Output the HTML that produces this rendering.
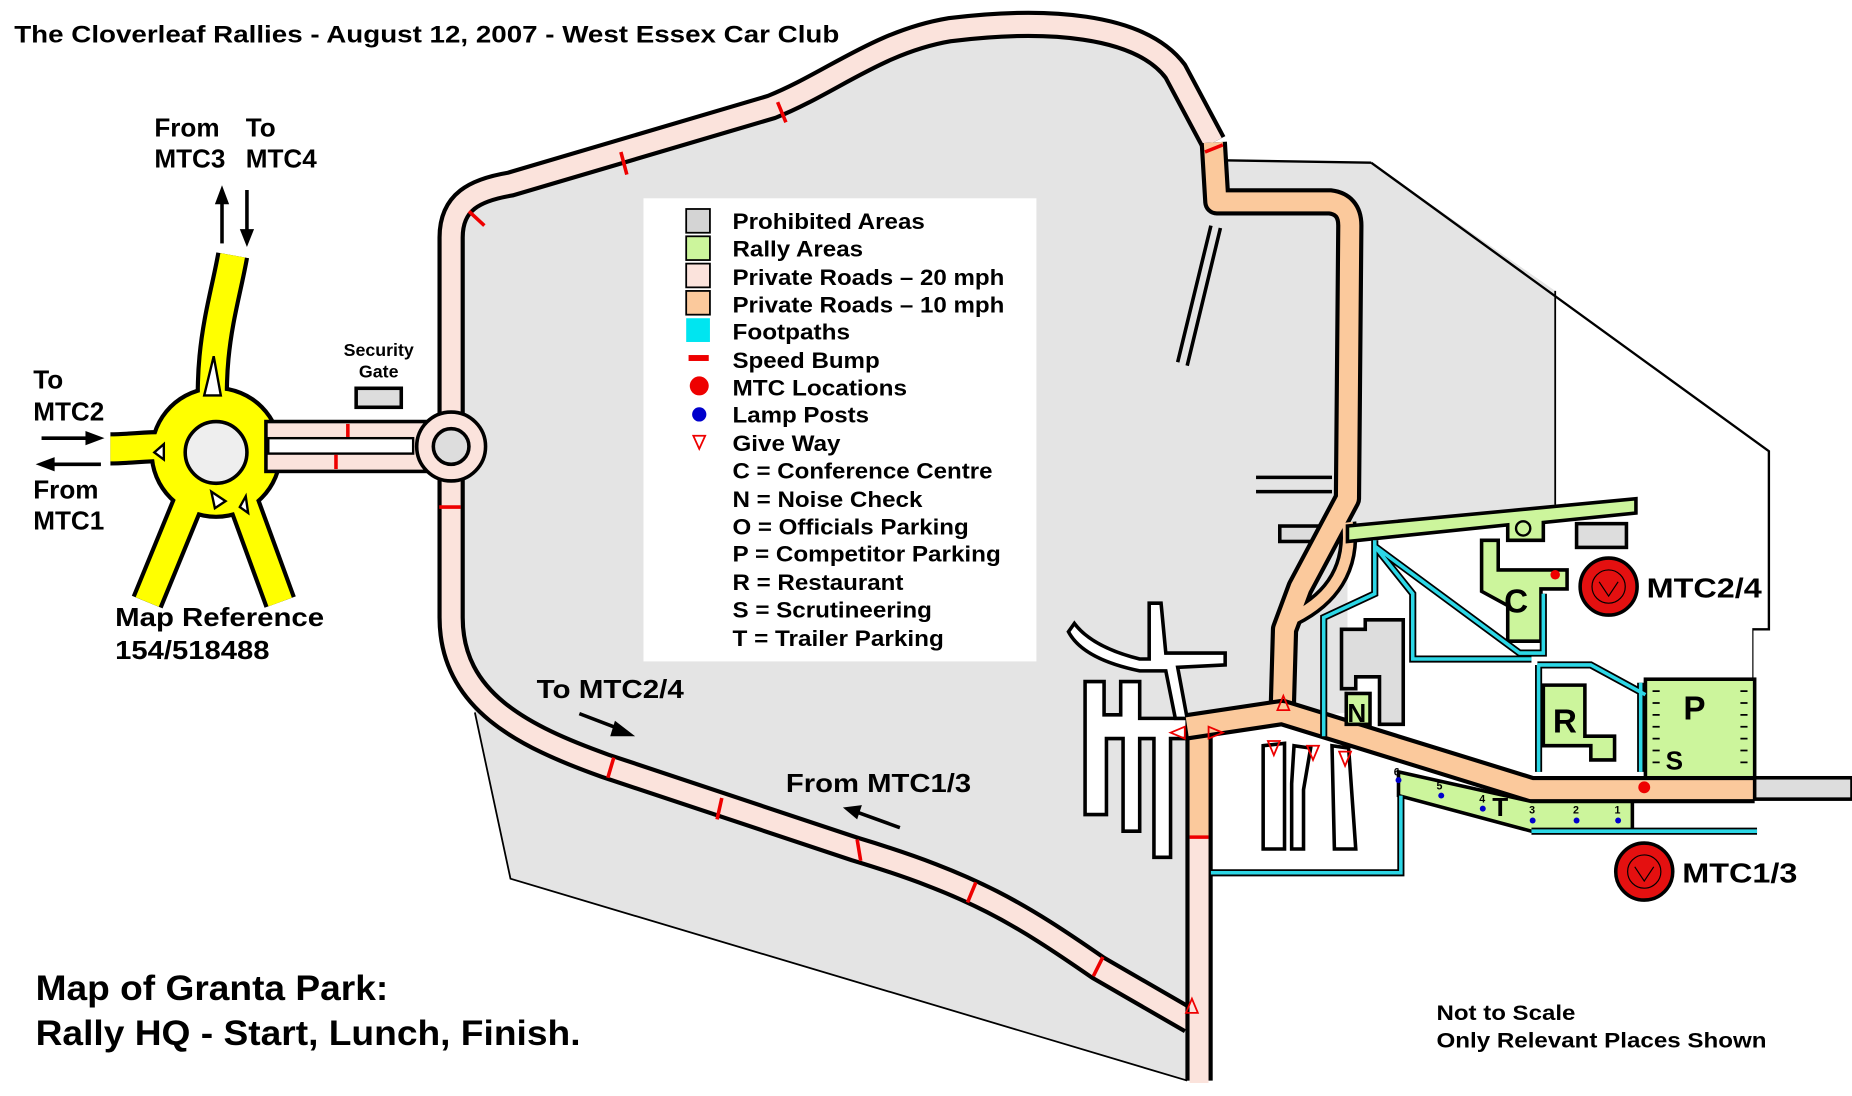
<!DOCTYPE html>
<html><head><meta charset="utf-8"><style>
html,body{margin:0;padding:0;background:#fff;}
svg{display:block;}
text{font-family:"Liberation Sans",Arial,sans-serif;font-weight:bold;fill:#000;}
</style></head><body>
<svg width="1852" height="1096" viewBox="0 0 1560 923" preserveAspectRatio="none" xmlns="http://www.w3.org/2000/svg">
<rect width="1560" height="923" fill="#fff"/>
<text x="12" y="36" font-size="20" textLength="695" lengthAdjust="spacingAndGlyphs">The Cloverleaf Rallies - August 12, 2007 - West Essex Car Club</text>

<path d="M380 520 L380 200 C380 170 400 160 430 155 L650 90 C700 70 740 35 800 25 C880 15 960 20 990 60 L1022 120 L1030 135 L1155 137 L1310 245 L1310 425 L1135 445 L1135 600 L1020 612 L1020 910 L1000 910 L430 740 L400 600 Z" fill="#e4e4e4"/>
<path d="M400 600 L430 740 L1000 910" fill="none" stroke="#000" stroke-width="1.5"/>
<path d="M1155 137 L1490 380 L1490 530 L1476 530 L1476 655" fill="none" stroke="#000" stroke-width="2"/>
<path d="M1030 135 L1155 137" fill="none" stroke="#000" stroke-width="2"/>
<path d="M1310 245 L1310 425" fill="none" stroke="#000" stroke-width="1.5"/>
<path d="M1138 455 L1476 430 L1476 655 L1180 655 L1180 735 L1020 735 L1020 620 L1138 612 Z" fill="#fff"/>

<path d="M992 305 L1020 190 M1000 308 L1028 192" stroke="#000" stroke-width="3" fill="none"/>
<path d="M1058 402 L1122 402 M1058 414 L1122 414" stroke="#000" stroke-width="3"/>
<rect x="1078" y="443" width="60" height="13" fill="#ddd" stroke="#000" stroke-width="3"/>
<g fill="#fff" stroke="#000" stroke-width="3">
<path d="M914 574 L930 574 L930 602 L944 602 L944 574 L960 574 L960 605 L1000 605 L1000 622 L986 622 L986 722 L972 722 L972 622 L960 622 L960 700 L946 700 L946 622 L932 622 L932 686 L914 686 Z"/>
<path d="M905 525 Q920 545 960 555 L968 555 L968 508 L978 508 L982 550 L1032 550 L1032 560 L992 562 L1000 605 L990 605 L982 565 L960 565 Q912 555 900 532 Z"/>
<path d="M1064 628 L1082 626 L1082 715 L1064 715 Z M1090 628 L1104 630 L1098 665 L1098 715 L1088 715 L1088 660 Z M1122 628 L1136 630 L1142 715 L1124 715 Z"/>
</g>

<g fill="none" stroke-linejoin="round">
<path d="M1003 860 L925 815 C860 770 820 745 720 715 L510 645 C440 620 380 590 380 520 L380 200 C380 170 400 160 430 155 L650 90 C700 70 740 35 800 25 C880 15 960 20 990 60 L1022 120" stroke="#000" stroke-width="23"/>
<path d="M1003 860 L925 815 C860 770 820 745 720 715 L510 645 C440 620 380 590 380 520 L380 200 C380 170 400 160 430 155 L650 90 C700 70 740 35 800 25 C880 15 960 20 990 60 L1022 120" stroke="#fbe3dc" stroke-width="16"/>
</g>
<path d="M1010 612 L1010 910" stroke="#000" stroke-width="23"/>
<path d="M1010 612 L1010 705" stroke="#fbc99c" stroke-width="16"/>
<path d="M1010 705 L1010 912" stroke="#fbe3dc" stroke-width="16"/>
<g fill="none" stroke-linejoin="round">
<path d="M1022 120 L1025 170 L1120 170 Q1137 172 1137 190 L1135 420 L1095 495 L1082 530 L1080 600" stroke="#000" stroke-width="23"/>
<path d="M1135 440 C1140 480 1120 505 1090 520" stroke="#000" stroke-width="15"/>
<path d="M1135 440 C1140 480 1120 505 1090 520" stroke="#fbc99c" stroke-width="9"/>
<path d="M1022 120 L1025 170 L1120 170 Q1137 172 1137 190 L1135 420 L1095 495 L1082 530 L1080 600" stroke="#fbc99c" stroke-width="16"/>
<path d="M1000 612 L1080 600 L1290 665 L1478 665" stroke="#000" stroke-width="23"/>
<path d="M1000 612 L1080 600 L1290 665 L1478 665" stroke="#fbc99c" stroke-width="16"/>
</g>
<rect x="1478" y="655" width="82" height="18" fill="#ddd" stroke="#000" stroke-width="3"/>

<g stroke="#e00" stroke-width="3">
<line x1="655" y1="86" x2="662" y2="103"/><line x1="523" y1="128" x2="528" y2="147"/>
<line x1="395" y1="178" x2="408" y2="190"/><line x1="370" y1="427" x2="388" y2="427"/>
<line x1="1015" y1="128" x2="1030" y2="122"/>
<line x1="517" y1="638" x2="512" y2="655"/><line x1="608" y1="672" x2="604" y2="690"/>
<line x1="722" y1="707" x2="725" y2="725"/><line x1="822" y1="743" x2="815" y2="760"/>
<line x1="929" y1="806" x2="921" y2="822"/><line x1="1002" y1="705" x2="1018" y2="705"/>
</g>

<g fill="#ccf59c" stroke="#000" stroke-width="3">
<path d="M1135 443 L1378 420 L1378 432 L1300 440 L1300 455 L1270 455 L1270 442 L1135 456 Z"/>
<path d="M1248 455 L1262 455 L1262 480 L1320 480 L1320 496 L1298 496 L1298 540 L1270 540 L1270 510 L1248 498 Z"/>
<path d="M1300 577 L1335 577 L1335 620 L1360 620 L1360 640 L1340 640 L1340 628 L1300 628 Z"/>
<rect x="1386" y="572" width="92" height="83"/>
<path d="M1178 650 L1290 675 L1375 675 L1375 700 L1290 700 L1178 670 Z"/>
<rect x="1134" y="584" width="20" height="26"/>
</g>
<circle cx="1283" cy="445" r="6" fill="#ccf59c" stroke="#000" stroke-width="2"/>
<rect x="1328" y="441" width="42" height="20" fill="#ddd" stroke="#000" stroke-width="3"/>
<path d="M1130 530 L1150 530 L1150 522 L1182 522 L1182 610 L1162 610 L1162 570 L1142 570 L1142 580 L1130 580 Z" fill="#ddd" stroke="#000" stroke-width="3"/>
<path d="M1392 582 h6 M1392 592 h6 M1392 602 h6 M1392 612 h6 M1392 622 h6 M1392 632 h6 M1392 642 h6 M1466 582 h6 M1466 592 h6 M1466 602 h6 M1466 612 h6 M1466 622 h6 M1466 632 h6 M1466 642 h6" stroke="#000" stroke-width="1.5"/>

<path d="M1158 455 L1158 500 L1115 520 L1115 620 M1158 460 L1190 500 L1190 555 L1290 555 M1158 460 L1280 550 L1300 550 L1300 500 M1295 560 L1340 560 L1386 585 M1296 560 L1296 650 M1382 575 L1382 650 M1180 670 L1180 735 L1020 735 M1290 700 L1480 700" fill="none" stroke="#000" stroke-width="6"/>
<path d="M1158 455 L1158 500 L1115 520 L1115 620 M1158 460 L1190 500 L1190 555 L1290 555 M1158 460 L1280 550 L1300 550 L1300 500 M1295 560 L1340 560 L1386 585 M1296 560 L1296 650 M1382 575 L1382 650 M1180 670 L1180 735 L1020 735 M1290 700 L1480 700" fill="none" stroke="#2cd7e6" stroke-width="3"/>

<g fill="#00c"><circle cx="1178" cy="657" r="2.5"/><circle cx="1214" cy="670" r="2.5"/><circle cx="1249" cy="681" r="2.5"/><circle cx="1291" cy="691" r="2.5"/><circle cx="1328" cy="691" r="2.5"/><circle cx="1363" cy="691" r="2.5"/></g>
<g font-size="9" font-weight="normal"><text x="1174" y="653">6</text><text x="1210" y="665">5</text><text x="1246" y="676">4</text><text x="1288" y="685">3</text><text x="1325" y="685">2</text><text x="1360" y="685">1</text></g>
<g font-size="28"><text x="1267" y="516">C</text><text x="1308" y="617">R</text><text x="1418" y="606">P</text><text x="1135" y="608" font-size="22">N</text><text x="1403" y="648" font-size="22">S</text><text x="1257" y="687" font-size="22">T</text></g>

<g fill="none" stroke="#e00" stroke-width="1.5">
<path d="M1076 598 L1086 598 L1081 586 Z"/><path d="M986 617 L998 612 L998 622 Z"/><path d="M1018 612 L1030 617 L1018 622 Z"/>
<path d="M1068 624 L1078 624 L1073 636 Z"/><path d="M1101 628 L1111 628 L1106 640 Z"/><path d="M1128 633 L1138 633 L1133 645 Z"/>
<path d="M999 853 L1009 853 L1004 841 Z"/>
</g>
<g fill="#e00"><circle cx="1310" cy="484" r="4"/><circle cx="1385" cy="663" r="5"/></g>

<g stroke="#000" stroke-width="3" fill="#e41010"><circle cx="1355" cy="494" r="24"/><circle cx="1385" cy="734" r="24"/></g>
<g stroke="#000" stroke-width="1" fill="none"><circle cx="1355" cy="494" r="14"/><circle cx="1385" cy="734" r="14"/><path d="M1347 490 L1355 502 L1363 490 M1377 730 L1385 742 L1393 730"/></g>
<text x="1387" y="503" font-size="23" textLength="97" lengthAdjust="spacingAndGlyphs">MTC2/4</text>
<text x="1417" y="743" font-size="23" textLength="97" lengthAdjust="spacingAndGlyphs">MTC1/3</text>

<g fill="none">
<g stroke="#000" stroke-width="28">
<path d="M182 381 C172 300 188 260 196 215"/><path d="M182 381 C140 372 120 378 93 378"/>
<path d="M170 395 L124 507"/><path d="M195 395 L236 507"/><path d="M182 378 L222 378" stroke-width="46"/>
</g>
<circle cx="182" cy="381" r="56" fill="#000"/>
<g stroke="#ff0" stroke-width="21">
<path d="M182 381 C172 300 188 260 196 215"/><path d="M182 381 C140 372 120 378 93 378"/>
<path d="M170 395 L124 507"/><path d="M195 395 L236 507"/><path d="M182 378 L222 378" stroke-width="39"/>
</g>
<circle cx="182" cy="381" r="52.5" fill="#ff0"/>
</g>
<circle cx="182" cy="381" r="26" fill="#eee" stroke="#000" stroke-width="3"/>
<g fill="#fff" stroke="#000" stroke-width="2">
<path d="M172 333 L186 333 L180 300 Z"/><path d="M130 381 L138 374 L138 387 Z"/>
<path d="M178 414 L190 422 L181 428 Z"/><path d="M207 418 L202 427 L209 432 Z"/>
</g>
<rect x="224" y="355" width="140" height="42" fill="#fbe3dc" stroke="#000" stroke-width="3"/>
<rect x="226" y="369" width="122" height="13" fill="#fff" stroke="#000" stroke-width="2"/>
<g stroke="#e00" stroke-width="3"><line x1="293" y1="357" x2="293" y2="368"/><line x1="283" y1="383" x2="283" y2="395"/></g>
<circle cx="380" cy="376" r="29" fill="#fbe3dc" stroke="#000" stroke-width="3"/>
<rect x="368" y="358" width="24" height="36" fill="#fbe3dc"/>
<circle cx="380" cy="376" r="15" fill="#ddd" stroke="#000" stroke-width="3"/>
<rect x="300" y="327" width="38" height="16" fill="#ddd" stroke="#000" stroke-width="3"/>
<text x="319" y="300" font-size="15" text-anchor="middle">Security</text>
<text x="319" y="318" font-size="15" text-anchor="middle">Gate</text>

<g stroke="#000" stroke-width="3">
<line x1="187" y1="205" x2="187" y2="170"/><line x1="208" y1="160" x2="208" y2="195"/>
<line x1="35" y1="369" x2="75" y2="369"/><line x1="45" y1="391" x2="85" y2="391"/>
<line x1="488" y1="601" x2="522" y2="614"/><line x1="758" y1="697" x2="722" y2="684"/>
</g>
<g fill="#000">
<path d="M181 172 L193 172 L187 156 Z"/><path d="M202 193 L214 193 L208 208 Z"/>
<path d="M72 363 L88 369 L72 375 Z"/><path d="M46 385 L30 391 L46 397 Z"/>
<path d="M518 607 L535 620 L514 620 Z"/><path d="M726 678 L710 680 L722 690 Z"/>
</g>
<g font-size="22">
<text x="130" y="115">From</text><text x="207" y="115">To</text>
<text x="130" y="141">MTC3</text><text x="207" y="141">MTC4</text>
<text x="28" y="327">To</text><text x="28" y="354">MTC2</text>
<text x="28" y="420">From</text><text x="28" y="446">MTC1</text>
<text x="97" y="527" textLength="176" lengthAdjust="spacingAndGlyphs">Map Reference</text><text x="97" y="555" textLength="130" lengthAdjust="spacingAndGlyphs">154/518488</text>
<text x="452" y="588" textLength="124" lengthAdjust="spacingAndGlyphs">To MTC2/4</text><text x="662" y="667" textLength="156" lengthAdjust="spacingAndGlyphs">From MTC1/3</text>
</g>
<text x="30" y="842" font-size="30" textLength="297" lengthAdjust="spacingAndGlyphs">Map of Granta Park:</text>
<text x="30" y="880" font-size="30" textLength="459" lengthAdjust="spacingAndGlyphs">Rally HQ - Start, Lunch, Finish.</text>
<text x="1210" y="859" font-size="18" textLength="117" lengthAdjust="spacingAndGlyphs">Not to Scale</text>
<text x="1210" y="882" font-size="18" textLength="278" lengthAdjust="spacingAndGlyphs">Only Relevant Places Shown</text>

<rect x="542" y="167" width="331" height="390" fill="#fff"/>
<g stroke="#000" stroke-width="1.5">
<rect x="578" y="176" width="20" height="20" fill="#d4d4d4"/>
<rect x="578" y="199" width="20" height="20" fill="#ccf59c"/>
<rect x="578" y="222" width="20" height="20" fill="#fbe3dc"/>
<rect x="578" y="245" width="20" height="20" fill="#fbc99c"/>
<rect x="578" y="268" width="20" height="20" fill="#00e5f0" stroke="none"/>
</g>
<rect x="580" y="299" width="17" height="5" fill="#e00"/>
<circle cx="589" cy="325" r="8" fill="#e00"/>
<circle cx="589" cy="349" r="6" fill="#00c"/>
<path d="M584 367 L594 367 L589 378 Z" fill="none" stroke="#e00" stroke-width="1.5"/>
<g font-size="19">
<text x="617" y="193" textLength="162" lengthAdjust="spacingAndGlyphs">Prohibited Areas</text><text x="617" y="216" textLength="110" lengthAdjust="spacingAndGlyphs">Rally Areas</text>
<text x="617" y="240" textLength="229" lengthAdjust="spacingAndGlyphs">Private Roads – 20 mph</text><text x="617" y="263" textLength="229" lengthAdjust="spacingAndGlyphs">Private Roads – 10 mph</text>
<text x="617" y="286" textLength="99" lengthAdjust="spacingAndGlyphs">Footpaths</text><text x="617" y="310" textLength="124" lengthAdjust="spacingAndGlyphs">Speed Bump</text>
<text x="617" y="333" textLength="147" lengthAdjust="spacingAndGlyphs">MTC Locations</text><text x="617" y="356" textLength="115" lengthAdjust="spacingAndGlyphs">Lamp Posts</text>
<text x="617" y="380" textLength="91" lengthAdjust="spacingAndGlyphs">Give Way</text><text x="617" y="403" textLength="219" lengthAdjust="spacingAndGlyphs">C = Conference Centre</text>
<text x="617" y="427" textLength="160" lengthAdjust="spacingAndGlyphs">N = Noise Check</text><text x="617" y="450" textLength="199" lengthAdjust="spacingAndGlyphs">O = Officials Parking</text>
<text x="617" y="473" textLength="226" lengthAdjust="spacingAndGlyphs">P = Competitor Parking</text><text x="617" y="497" textLength="144" lengthAdjust="spacingAndGlyphs">R = Restaurant</text>
<text x="617" y="520" textLength="168" lengthAdjust="spacingAndGlyphs">S = Scrutineering</text><text x="617" y="544" textLength="178" lengthAdjust="spacingAndGlyphs">T = Trailer Parking</text>
</g>
</svg>
</body></html>
